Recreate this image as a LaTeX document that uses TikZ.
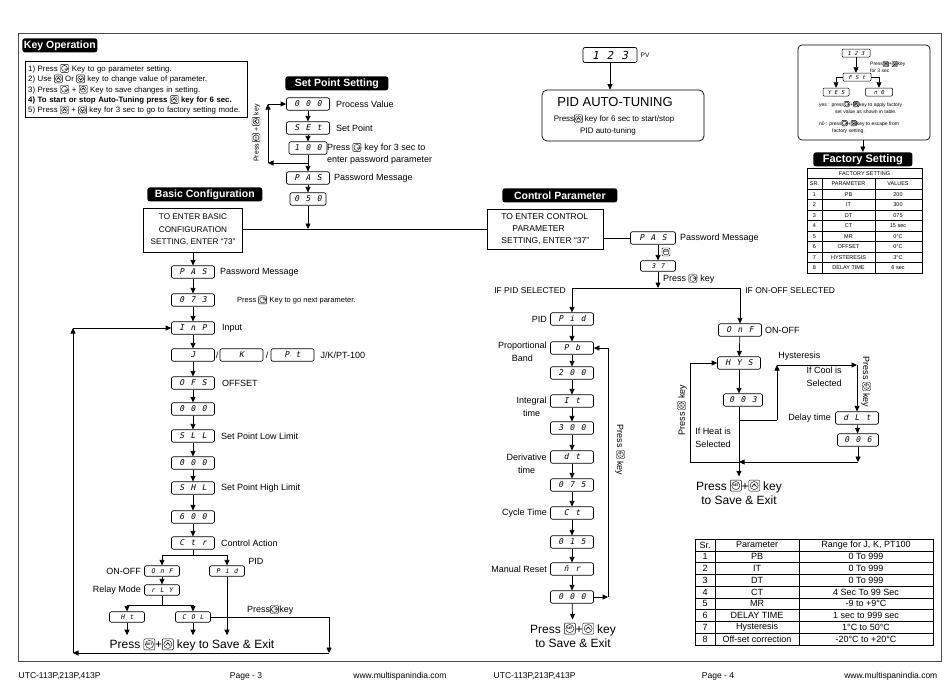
\documentclass[tikz,border=0pt]{standalone}
\usepackage{fontspec}
\setmainfont{Liberation Sans}
\newfontfamily\segfont{DejaVu Sans Mono}[FakeSlant=0.2]
\usetikzlibrary{arrows.meta,positioning}

\newcommand\segsp[1]{\spaceskip=#1\relax}
\newcommand\setkey[1][8]{\tikz[baseline=-0.7ex,x=1pt,y=1pt,line width=0.4pt]{%
  \pgfmathsetmacro\kfs{#1*0.3}%
  \draw[rounded corners=1pt] (-#1/2,-#1/2) rectangle (#1/2,#1/2);
  \draw (0,0) circle ({#1*0.37});
  \node[inner sep=0pt,font=\fontsize{\kfs}{\kfs}\selectfont\bfseries] (sk) at (0,0) {SET};}}
\newcommand\upkey[1][8]{\tikz[baseline=-0.7ex,x=1pt,y=1pt,line width=0.4pt]{%
  \draw[rounded corners=1pt] (-#1/2,-#1/2) rectangle (#1/2,#1/2);
  \draw (0,0) circle ({#1*0.37});
  \draw[line width=0.7pt] ({-#1*0.2},{-#1*0.1}) -- (0,{#1*0.15}) -- ({#1*0.2},{-#1*0.1});}}
\newcommand\downkey[1][8]{\tikz[baseline=-0.7ex,x=1pt,y=1pt,line width=0.4pt]{%
  \draw[rounded corners=1pt] (-#1/2,-#1/2) rectangle (#1/2,#1/2);
  \draw (0,0) circle ({#1*0.37});
  \draw[line width=0.7pt] ({-#1*0.2},{#1*0.1}) -- (0,{-#1*0.15}) -- ({#1*0.2},{#1*0.1});}}

\tikzset{
  disp/.style={draw,rounded corners=2pt,minimum width=43pt,minimum height=12.5pt,inner sep=0pt,
    font=\segfont\fontsize{8}{8}\selectfont\segsp{6.5pt}},
  mdisp/.style={disp,minimum width=35pt,minimum height=10.5pt,
    font=\segfont\fontsize{6.5}{7}\selectfont\segsp{5pt}},
  sdisp/.style={disp,minimum width=28pt,minimum height=8pt,rounded corners=1pt,line width=0.5pt,
    font=\segfont\fontsize{5.5}{5.5}\selectfont\segsp{3.5pt}},
  tab/.style={fill=black,text=white,anchor=north west,inner sep=1pt,minimum height=14pt,
    rounded corners=2.5pt,font=\bfseries\fontsize{10.5}{11}\selectfont},
  lbl/.style={anchor=west,inner sep=1pt},
  lft/.style={anchor=east,inner sep=1pt},
  arr/.style={-{Triangle[length=5.5pt,width=5pt]}},
  cell/.style={inner sep=0pt,font=\fontsize{5.5}{6}\selectfont},
  bcell/.style={inner sep=0pt,font=\fontsize{9}{10}\selectfont},
}

\begin{document}
\begin{tikzpicture}[x=1pt,y=-1pt,line width=0.7pt,every node/.style={font=\fontsize{9}{10.5}\selectfont}]
\useasboundingbox (0,0) rectangle (950,691);
\draw[black!70,line width=0.8pt] (18,33) rectangle (941,661);

% key operation
\node[tab,minimum width=75pt] (keyhead) at (22,38) {Key Operation};
\node[draw,anchor=north west,inner sep=3pt,text width=216pt,align=left,font=\fontsize{7.8}{10.4}\selectfont] (keylist) at (25,61) {1) Press \setkey\ Key to go parameter setting.\\
2) Use \upkey\ Or \downkey\ key to change value of parameter.\\
3) Press \setkey\ + \upkey\ Key to save changes in setting.\\
\textbf{4) To start or stop Auto-Tuning press \upkey\ key for 6 sec.}\\
5) Press \upkey\ + \downkey\ key for 3 sec to go to factory setting mode.};

% set point setting
\node[tab,minimum width=103pt] (sphead) at (285,76) {Set Point Setting};
\node[disp] (pv) at (308,104) {0 0 0};
\node[disp] (sp) at (308,128) {S E t};
\node[disp,minimum width=38pt] (spv) at (308,148) {1 0 0};
\node[disp] (pas1) at (308,178) {P A S};
\node[disp,minimum width=36pt] (pw1) at (308,199) {0 5 0};
\node[lbl] (pvt) at ([xshift=5pt]pv.east) {Process Value};
\node[lbl] (spt) at ([xshift=5pt]sp.east) {Set Point};
\node[anchor=north west,align=left,inner sep=1pt,font=\fontsize{9}{12}\selectfont] (spvt) at (326,142) {Press \setkey\ key for 3 sec to\\enter password parameter};
\node[lbl] (pas1t) at ([xshift=3pt]pas1.east) {Password Message};
\draw[arr] (pv) -- (sp);
\draw[arr] (sp) -- (spv);
\draw[arr] (spv) -- (pas1);
\draw[arr] (pas1) -- (pw1);
\coordinate (lp) at (308,163);
\coordinate (lpa) at (268,163);
\coordinate (lpb) at (268,104);
\draw[arr] (lp) -- (lpa);
\draw[arr] (lpa) -- (lpb);
\draw[arr] (lpb) -- (pv);
\node[rotate=90,font=\fontsize{7}{8}\selectfont] (lpt) at (256,133) {Press \setkey\ + \upkey\ key};

% basic configuration
\node[tab,minimum width=115pt] (bchead) at (147,187) {Basic Configuration};
\node[draw,minimum width=99pt,minimum height=44pt,align=center,font=\fontsize{8.2}{12.5}\selectfont] (bcbox) at (193,230) {TO ENTER BASIC\\CONFIGURATION\\SETTING, ENTER “73”};
\foreach \nm/\txt/\yy in {bpas/P A S/272, bcode/0 7 3/300, inp/I n P/328, tcj/J/355, ofs/O F S/383, ofv/0 0 0/409,
    sll/S L L/436, sllv/0 0 0/463, shl/S H L/488, shlv/6 0 0/517, ctr/C t r/543}
  \node[disp] (\nm) at (193,\yy) {\txt};
\node[disp] (tck) at (241.5,355) {K};
\node[disp] (tcp) at (292.5,355) {P t};
\node (sla) at (217,355) {/};
\node (slb) at (267,355) {/};
\foreach \a/\b in {bcbox/bpas, bpas/bcode, bcode/inp, inp/tcj, tcj/ofs, ofs/ofv, ofv/sll, sll/sllv, sllv/shl, shl/shlv, shlv/ctr}
  \draw[arr] (\a) -- (\b);
\node[lbl] (bpast) at ([xshift=4pt]bpas.east) {Password Message};
\node[lbl,font=\fontsize{7.5}{9}\selectfont] (bcodet) at (236,300) {Press \setkey\ Key to go next parameter.};
\node[lbl] (inpt) at ([xshift=6pt]inp.east) {Input};
\node[lbl] (tct) at ([xshift=5pt]tcp.east) {J/K/PT-100};
\node[lbl] (ofst) at ([xshift=6pt]ofs.east) {OFFSET};
\node[lbl] (sllt) at ([xshift=5pt]sll.east) {Set Point Low Limit};
\node[lbl] (shlt) at ([xshift=5pt]shl.east) {Set Point High Limit};
\node[lbl] (ctrt) at ([xshift=5pt]ctr.east) {Control Action};
\coordinate (ctrj) at (193,555);
\node[mdisp] (onf1) at (162,571) {O n F};
\node[mdisp] (pid1) at (227,571) {P i d};
\node[mdisp] (rly) at (162,590) {r L Y};
\node[mdisp] (ht) at (127,617) {H t};
\node[mdisp] (col) at (193,617) {C O L};
\node[lft] (onf1t) at ([xshift=-2pt]onf1.west) {ON-OFF};
\node[lft] (rlyt) at ([xshift=-2pt]rly.west) {Relay Mode};
\node[lbl] (pid1t) at (247,561) {PID};
\node[font=\fontsize{12}{14}\selectfont] (save1) at (192,645) {Press \setkey[11]+\upkey[11] key to Save \& Exit};
\draw (ctr) -- (ctrj);
\draw[arr] (ctrj) -| (onf1);
\draw[arr] (ctrj) -| (pid1);
\draw[arr] (onf1) -- (rly);
\coordinate (rlyj) at (162,605);
\draw (rly) -- (rlyj);
\draw[arr] (rlyj) -| (ht);
\draw[arr] (rlyj) -| (col);
\draw[arr] (ht) -- (ht |- save1.north);
\draw[arr] (col) -- (col |- save1.north);
\draw[arr] (pid1) -- (pid1 |- save1.north);
\coordinate (cra) at (329,653);
\coordinate (cla) at (73,653);
\coordinate (clb) at (73,328);
\draw[arr] (col.east) -| (cra);
\draw[arr] (cra) -- (cla);
\draw[arr] (cla) -- (clb);
\draw[arr] (clb) -- (inp);
\node[lbl] (colt) at (246,610) {Press\setkey key};

% control parameter
\node[tab,minimum width=115pt] (cphead) at (502,188) {Control Parameter};
\node[draw,anchor=north west,align=left,minimum width=116pt,minimum height=40pt,inner xsep=3pt,font=\fontsize{8.5}{12}\selectfont] (cpbox) at (487,209) {TO ENTER CONTROL\\\hspace*{1.3em}PARAMETER\\SETTING, ENTER “37”};
\coordinate (jn) at (308,229);
\draw[arr] (pw1) -- (jn);
\draw (bcbox.east |- jn) -- (cpbox.west |- jn);
\node[disp,minimum width=45pt] (pas2) at (653,238) {P A S};
\node[lbl] (pas2t) at ([xshift=3pt]pas2.east) {Password Message};
\draw (cpbox.east |- pas2) -- (pas2);
\node[mdisp] (code2) at (658,266) {3 7};
\draw[arr] (pas2.south -| code2) -- (code2);
\node[inner sep=0pt] (setk2) at (666,252) {\setkey};
\coordinate (cpj) at (658,288);
\draw[arr] (code2) -- (cpj);
\node[lbl] (code2t) at (662,279) {Press \setkey\ key};
\node[lft,font=\fontsize{8.5}{10}\selectfont] (ifpid) at (567,291) {IF PID SELECTED};
\node[lbl,font=\fontsize{8.5}{10}\selectfont] (ifonf) at (744,291) {IF ON-OFF SELECTED};
\foreach \nm/\txt/\yy in {pid2/P i d/319, pb/P b/348, pbv/2 0 0/373, it/I t/401, itv/3 0 0/428, dt/d t/457,
    dtv/0 7 5/485, ct/C t/513, ctv/0 1 5/542, mr/\=n r/569, mrv/0 0 0/597}
  \node[disp] (\nm) at (572,\yy) {\txt};
\foreach \a/\b in {pid2/pb, pb/pbv, pbv/it, it/itv, itv/dt, dt/dtv, dtv/ct, ct/ctv, ctv/mr, mr/mrv}
  \draw[arr] (\a) -- (\b);
\node[lft] (pid2t) at ([xshift=-2pt]pid2.west) {PID};
\node[lft,align=center,font=\fontsize{9}{13}\selectfont] (pbt) at (548,351.5) {Proportional\\Band};
\node[lft,align=center,font=\fontsize{9}{13}\selectfont] (itt) at (548,406.5) {Integral\\time};
\node[lft,align=center,font=\fontsize{9}{13}\selectfont] (dtt) at (548,463.5) {Derivative\\time};
\node[lft] (ctt) at ([xshift=-2pt]ct.west) {Cycle Time};
\node[lft] (mrt) at ([xshift=-2pt]mr.west) {Manual Reset};
\node[align=center,font=\fontsize{12}{14}\selectfont] (save2) at (573,635) {Press \setkey[11]+\upkey[11] key\\to Save \& Exit};
\draw[arr] (mrv) -- (save2);
\coordinate (mla) at (608,597);
\coordinate (mlb) at (608,348);
\draw[arr] (mrv) -- (mla);
\draw (mla) -- (mlb);
\draw[arr] (mlb) -- (pb);
\node[rotate=-90] (mlt) at (620,450) {Press \setkey\ key};

% on-off branch
\node[disp] (onf2) at (740,330) {O n F};
\node[disp] (hys) at (739,363) {H Y S};
\node[disp,minimum width=39pt] (hysv) at (743,400) {0 0 3};
\node[disp] (dlt) at (857,418) {d L t};
\node[disp,minimum width=41pt] (dltv) at (858,440) {0 0 6};
\node[lbl] (onf2t) at ([xshift=2pt]onf2.east) {ON-OFF};
\node[align=center,font=\fontsize{12}{14}\selectfont] (save3) at (739,492) {Press \setkey[11]+\upkey[11] key\\to Save \& Exit};
\draw[arr] (cpj) -| (pid2);
\draw[arr] (cpj) -| (onf2);
\draw[arr] (onf2) -- (hys);
\draw[arr] (hys) -- (hys |- hysv.north);
\coordinate (hja) at (739,420);
\coordinate (hjb) at (739,462);
\draw[arr] (hysv.south -| hys) -- (hys |- save3.north);
\coordinate (hra) at (777,420);
\coordinate (hrb) at (777,365);
\coordinate (hrc) at (857,365);
\draw (hja) -- (hra);
\draw[arr] (hra) -- (hrb);
\draw[arr] (hrb) -- (hrc);
\draw[arr] (hrc) -- (dlt);
\draw[arr] (dlt) -- (dltv);
\coordinate (dr) at (858,462);
\coordinate (hla) at (690,462);
\coordinate (hlb) at (690,363);
\draw[arr] (dltv) -- (dr);
\draw[arr] (dr) -- (hjb);
\draw (hjb) -- (hla) -- (hlb);
\draw[arr] (hlb) -- (hys);
\node[anchor=south west,inner sep=1pt] (hyst) at (777,362) {Hysteresis};
\node[lft,align=right,font=\fontsize{9}{12.5}\selectfont] (coolt) at (843,377) {If Cool is\\Selected};
\node[lft] (dltt) at ([xshift=-3pt]dlt.west) {Delay time};
\node[rotate=-90] (rkey) at (866,382) {Press \setkey\ key};
\node[align=center,font=\fontsize{9}{12.5}\selectfont] (heatt) at (713,438) {If Heat is\\Selected};
\node[rotate=90] (lkey) at (682,410) {Press \setkey\ key};

% pid auto-tuning
\node[disp,minimum width=54pt,minimum height=15pt,font=\segfont\fontsize{11}{11}\selectfont\segsp{8pt}] (pvd) at (610,55) {1 2 3};
\node[lbl,font=\fontsize{6.5}{7}\selectfont] (pvdt) at ([xshift=2pt]pvd.east) {PV};
\node[draw,rounded corners=5pt,minimum width=162pt,minimum height=51pt] (atbox) at (623,115.5) {};
\node[font=\fontsize{13}{15}\selectfont] (att) at (615,102) {PID AUTO-TUNING};
\node[font=\fontsize{8}{9}\selectfont] (atl1) at (614,119) {Press\upkey\ key for 6 sec to start/stop};
\node[font=\fontsize{8}{9}\selectfont] (atl2) at (608,131) {PID auto-tuning};
\draw[arr] (pvd) -- (pvd |- atbox.north);

% factory setting
\node[draw,rounded corners=4pt,minimum width=132pt,minimum height=95pt] (fbox) at (864,92.5) {};
\node[sdisp] (f123) at (856,53) {1 2 3};
\node[sdisp] (fst) at (857,77) {F S t};
\node[sdisp,minimum width=26pt] (fyes) at (836,92) {Y E S};
\node[sdisp,minimum width=27pt] (fno) at (879,92) {n 0};
\draw[arr,line width=0.5pt] (f123) -- (f123 |- fst.north);
\draw[arr,line width=0.5pt] (fst.west) -| (fyes);
\draw[arr,line width=0.5pt] (fst.east) -| (fno);
\node[anchor=west,align=left,inner sep=0pt,font=\fontsize{5}{7}\selectfont] (fpt) at (870,67) {Press\upkey[5.5]+\downkey[5.5]key\\for 3 sec};
\node[anchor=north west,align=left,inner sep=0pt,font=\fontsize{5}{7}\selectfont] (fyt) at (819,101) {yes : press\setkey[5.5]+\upkey[5.5]key to apply factory\\\hspace*{3.2em}set value as shown in table.};
\node[anchor=north west,align=left,inner sep=0pt,font=\fontsize{5}{7}\selectfont] (fnt) at (819,120) {n0 : press\setkey[5.5]+\downkey[5.5]key to escape from\\\hspace*{2.6em}factory setting.};
\node[tab,minimum width=99pt,font=\bfseries\fontsize{11}{12}\selectfont] (fshead) at (813,152) {Factory Setting};
\draw[arr] (fbox.south -| fshead) -- (fshead);
\draw[line width=0.5pt] (807,168) rectangle (922,273);
\foreach \i in {1,...,9}
  \draw[line width=0.5pt] (807,168+10.5*\i) -- (922,168+10.5*\i);
\draw[line width=0.5pt] (822,178.5) -- (822,273);
\draw[line width=0.5pt] (875,178.5) -- (875,273);
\node[cell] (fth) at (864.5,173.25) {FACTORY SETTING};
\foreach \s/\p/\v [count=\i] in {SR./PARAMETER/VALUES, 1/PB/200, 2/IT/300, 3/DT/075, 4/CT/15 sec,
    5/MR/0°C, 6/OFFSET/0°C, 7/HYSTERESIS/3°C, 8/DELAY TIME/6 sec} {
  \node[cell] (fs\i) at (814.5,173.25+10.5*\i) {\s};
  \node[cell] (fp\i) at (848.5,173.25+10.5*\i) {\p};
  \node[cell] (fv\i) at (898,173.25+10.5*\i) {\v};
}

% range table
\draw[line width=0.5pt] (695,539) rectangle (933,645);
\foreach \i in {1,...,8}
  \draw[line width=0.5pt] (695,539+11.78*\i) -- (933,539+11.78*\i);
\draw[line width=0.5pt] (715,539) -- (715,645);
\draw[line width=0.5pt] (799,539) -- (799,645);
\foreach \s/\p/\v [count=\i from 0] in {Sr./Parameter/{Range for J, K, PT100}, 1/PB/0 To 999, 2/IT/0 To 999,
    3/DT/0 To 999, 4/CT/4 Sec To 99 Sec, 5/MR/-9 to +9°C, 6/DELAY TIME/1 sec to 999 sec,
    7/Hysteresis/1°C to 50°C, 8/Off-set correction/-20°C to +20°C} {
  \node[bcell] (rs\i) at (705,544.9+11.78*\i) {\s};
  \node[bcell] (rp\i) at (757,544.9+11.78*\i) {\p};
  \node[bcell] (rv\i) at (866,544.9+11.78*\i) {\v};
}

% footer
\node[anchor=west,font=\fontsize{8.5}{9}\selectfont] (fta) at (15,676) {UTC-113P,213P,413P};
\node[font=\fontsize{8.5}{9}\selectfont] (ftb) at (246,676) {Page - 3};
\node[font=\fontsize{8.5}{9}\selectfont] (ftc) at (400,676) {www.multispanindia.com};
\node[anchor=west,font=\fontsize{8.5}{9}\selectfont] (ftd) at (490,676) {UTC-113P,213P,413P};
\node[font=\fontsize{8.5}{9}\selectfont] (fte) at (718,676) {Page - 4};
\node[anchor=east,font=\fontsize{8.5}{9}\selectfont] (ftf) at (941,676) {www.multispanindia.com};
\end{tikzpicture}
\end{document}
